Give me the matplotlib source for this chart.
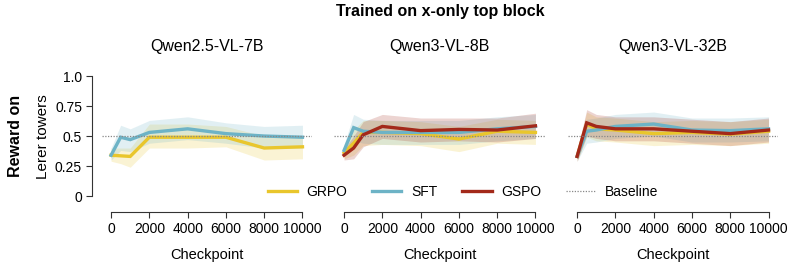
import matplotlib

matplotlib.use("Agg")

import matplotlib.pyplot as plt
from matplotlib.lines import Line2D

plt.rcParams["font.family"] = ["Liberation Sans", "DejaVu Sans"]

SUPTITLE = "Trained on x-only top block"
MODELS = ["Qwen2.5-VL-7B", "Qwen3-VL-8B", "Qwen3-VL-32B"]
CHECKPOINTS = [0, 500, 1000, 2000, 4000, 6000, 8000, 10000]
X_TICKS = [0, 2000, 4000, 6000, 8000, 10000]
Y_TICKS = [0, 0.25, 0.5, 0.75, 1.0]
Y_TICK_LABELS = ["0", "0.25", "0.5", "0.75", "1.0"]
BASELINE = 0.5

COLORS = {"GRPO": "#E9C62C", "SFT": "#6DB3C6", "GSPO": "#A3291A"}

# panel 1: Qwen2.5-VL-7B
grpo_7b = [0.34, 0.335, 0.33, 0.49, 0.49, 0.49, 0.40, 0.41]
grpo_7b_lo = [0.29, 0.27, 0.24, 0.40, 0.40, 0.41, 0.30, 0.31]
grpo_7b_hi = [0.40, 0.40, 0.40, 0.60, 0.60, 0.58, 0.50, 0.50]
sft_7b = [0.34, 0.49, 0.47, 0.53, 0.56, 0.52, 0.50, 0.49]
sft_7b_lo = [0.30, 0.38, 0.37, 0.44, 0.47, 0.44, 0.40, 0.40]
sft_7b_hi = [0.40, 0.59, 0.56, 0.63, 0.66, 0.61, 0.58, 0.59]

# panel 2: Qwen3-VL-8B
grpo_8b = [0.36, 0.44, 0.53, 0.53, 0.52, 0.475, 0.54, 0.53]
grpo_8b_lo = [0.31, 0.34, 0.42, 0.43, 0.42, 0.37, 0.44, 0.43]
grpo_8b_hi = [0.41, 0.55, 0.63, 0.63, 0.62, 0.58, 0.64, 0.63]
sft_8b = [0.38, 0.57, 0.54, 0.53, 0.53, 0.53, 0.56, 0.58]
sft_8b_lo = [0.33, 0.46, 0.44, 0.43, 0.43, 0.43, 0.46, 0.48]
sft_8b_hi = [0.43, 0.68, 0.64, 0.63, 0.63, 0.63, 0.66, 0.68]
gspo_8b = [0.34, 0.40, 0.51, 0.58, 0.545, 0.555, 0.55, 0.585]
gspo_8b_lo = [0.30, 0.31, 0.41, 0.48, 0.45, 0.46, 0.45, 0.48]
gspo_8b_hi = [0.39, 0.50, 0.62, 0.68, 0.65, 0.65, 0.65, 0.69]

# panel 3: Qwen3-VL-32B
grpo_32b = [0.33, 0.60, 0.56, 0.55, 0.52, 0.53, 0.515, 0.54]
grpo_32b_lo = [0.29, 0.49, 0.46, 0.45, 0.42, 0.43, 0.42, 0.44]
grpo_32b_hi = [0.38, 0.70, 0.66, 0.65, 0.62, 0.63, 0.62, 0.64]
sft_32b = [0.33, 0.54, 0.55, 0.58, 0.60, 0.55, 0.545, 0.56]
sft_32b_lo = [0.29, 0.44, 0.45, 0.48, 0.50, 0.45, 0.45, 0.46]
sft_32b_hi = [0.38, 0.64, 0.65, 0.68, 0.70, 0.65, 0.65, 0.66]
gspo_32b = [0.33, 0.61, 0.58, 0.56, 0.56, 0.54, 0.52, 0.55]
gspo_32b_lo = [0.29, 0.50, 0.48, 0.46, 0.46, 0.44, 0.42, 0.45]
gspo_32b_hi = [0.38, 0.72, 0.68, 0.66, 0.66, 0.64, 0.62, 0.65]

PANELS = [
    [("GRPO", grpo_7b, grpo_7b_lo, grpo_7b_hi), ("SFT", sft_7b, sft_7b_lo, sft_7b_hi)],
    [
        ("GRPO", grpo_8b, grpo_8b_lo, grpo_8b_hi),
        ("SFT", sft_8b, sft_8b_lo, sft_8b_hi),
        ("GSPO", gspo_8b, gspo_8b_lo, gspo_8b_hi),
    ],
    [
        ("GRPO", grpo_32b, grpo_32b_lo, grpo_32b_hi),
        ("SFT", sft_32b, sft_32b_lo, sft_32b_hi),
        ("GSPO", gspo_32b, gspo_32b_lo, gspo_32b_hi),
    ],
]


def main():
    fig = plt.figure(figsize=(7.93, 2.65), dpi=100)

    lefts = [0.128, 0.4218, 0.7157]
    for i, (model, series) in enumerate(zip(MODELS, PANELS)):
        ax = fig.add_axes([lefts[i], 0.2377, 0.2655, 0.498])

        for name, mean, lo, hi in series:
            ax.fill_between(CHECKPOINTS, lo, hi, color=COLORS[name], alpha=0.2, lw=0)
            ax.plot(CHECKPOINTS, mean, color=COLORS[name], lw=2.4, solid_joinstyle="miter")

        ax.axhline(BASELINE, color="#888888", lw=0.9, ls=(0, (1, 1.2)))

        ax.set_xlim(-500, 10500)
        ax.set_ylim(-0.05, 1.05)
        ax.set_title(model, fontsize=11.5, pad=14)
        ax.set_xticks(X_TICKS)
        ax.tick_params(axis="x", labelsize=10, length=4, width=0.8, color="#333333", pad=3)
        ax.set_xlabel("Checkpoint", fontsize=10.5, labelpad=9)

        for side in ["top", "right"]:
            ax.spines[side].set_visible(False)
        ax.spines["bottom"].set_position(("outward", 7.2))
        ax.spines["bottom"].set_bounds(0, 10000)
        ax.spines["bottom"].set_color("#333333")

        if i == 0:
            ax.set_yticks(Y_TICKS)
            ax.set_yticklabels(Y_TICK_LABELS)
            ax.tick_params(axis="y", labelsize=10, length=4, width=0.8, color="#333333", pad=3)
            ax.spines["left"].set_position(("outward", 7))
            ax.spines["left"].set_bounds(0, 1.0)
            ax.spines["left"].set_color("#333333")
        else:
            ax.spines["left"].set_visible(False)
            ax.set_yticks([])

        ax.patch.set_alpha(0)

    fig.text(0.555, 0.955, SUPTITLE, ha="center", va="center", fontsize=11.5, fontweight="bold")
    fig.text(0.019, 0.486, "Reward on", rotation=90, ha="center", va="center",
             fontsize=11.5, fontweight="bold")
    fig.text(0.054, 0.486, "Lerer towers", rotation=90, ha="center", va="center", fontsize=11)

    handles = [
        Line2D([], [], color=COLORS["GRPO"], lw=2.4),
        Line2D([], [], color=COLORS["SFT"], lw=2.4),
        Line2D([], [], color=COLORS["GSPO"], lw=2.4),
        Line2D([], [], color="#888888", lw=0.9, ls=(0, (1, 1.2))),
    ]
    fig.legend(
        handles,
        ["GRPO", "SFT", "GSPO", "Baseline"],
        loc="center",
        bbox_to_anchor=(0.584, 0.275),
        ncol=4,
        frameon=False,
        fontsize=10,
        handlelength=2.1,
        handletextpad=0.7,
        columnspacing=1.8,
    )

    fig.savefig("out.png", dpi=100)
    plt.close(fig)


if __name__ == "__main__":
    main()
